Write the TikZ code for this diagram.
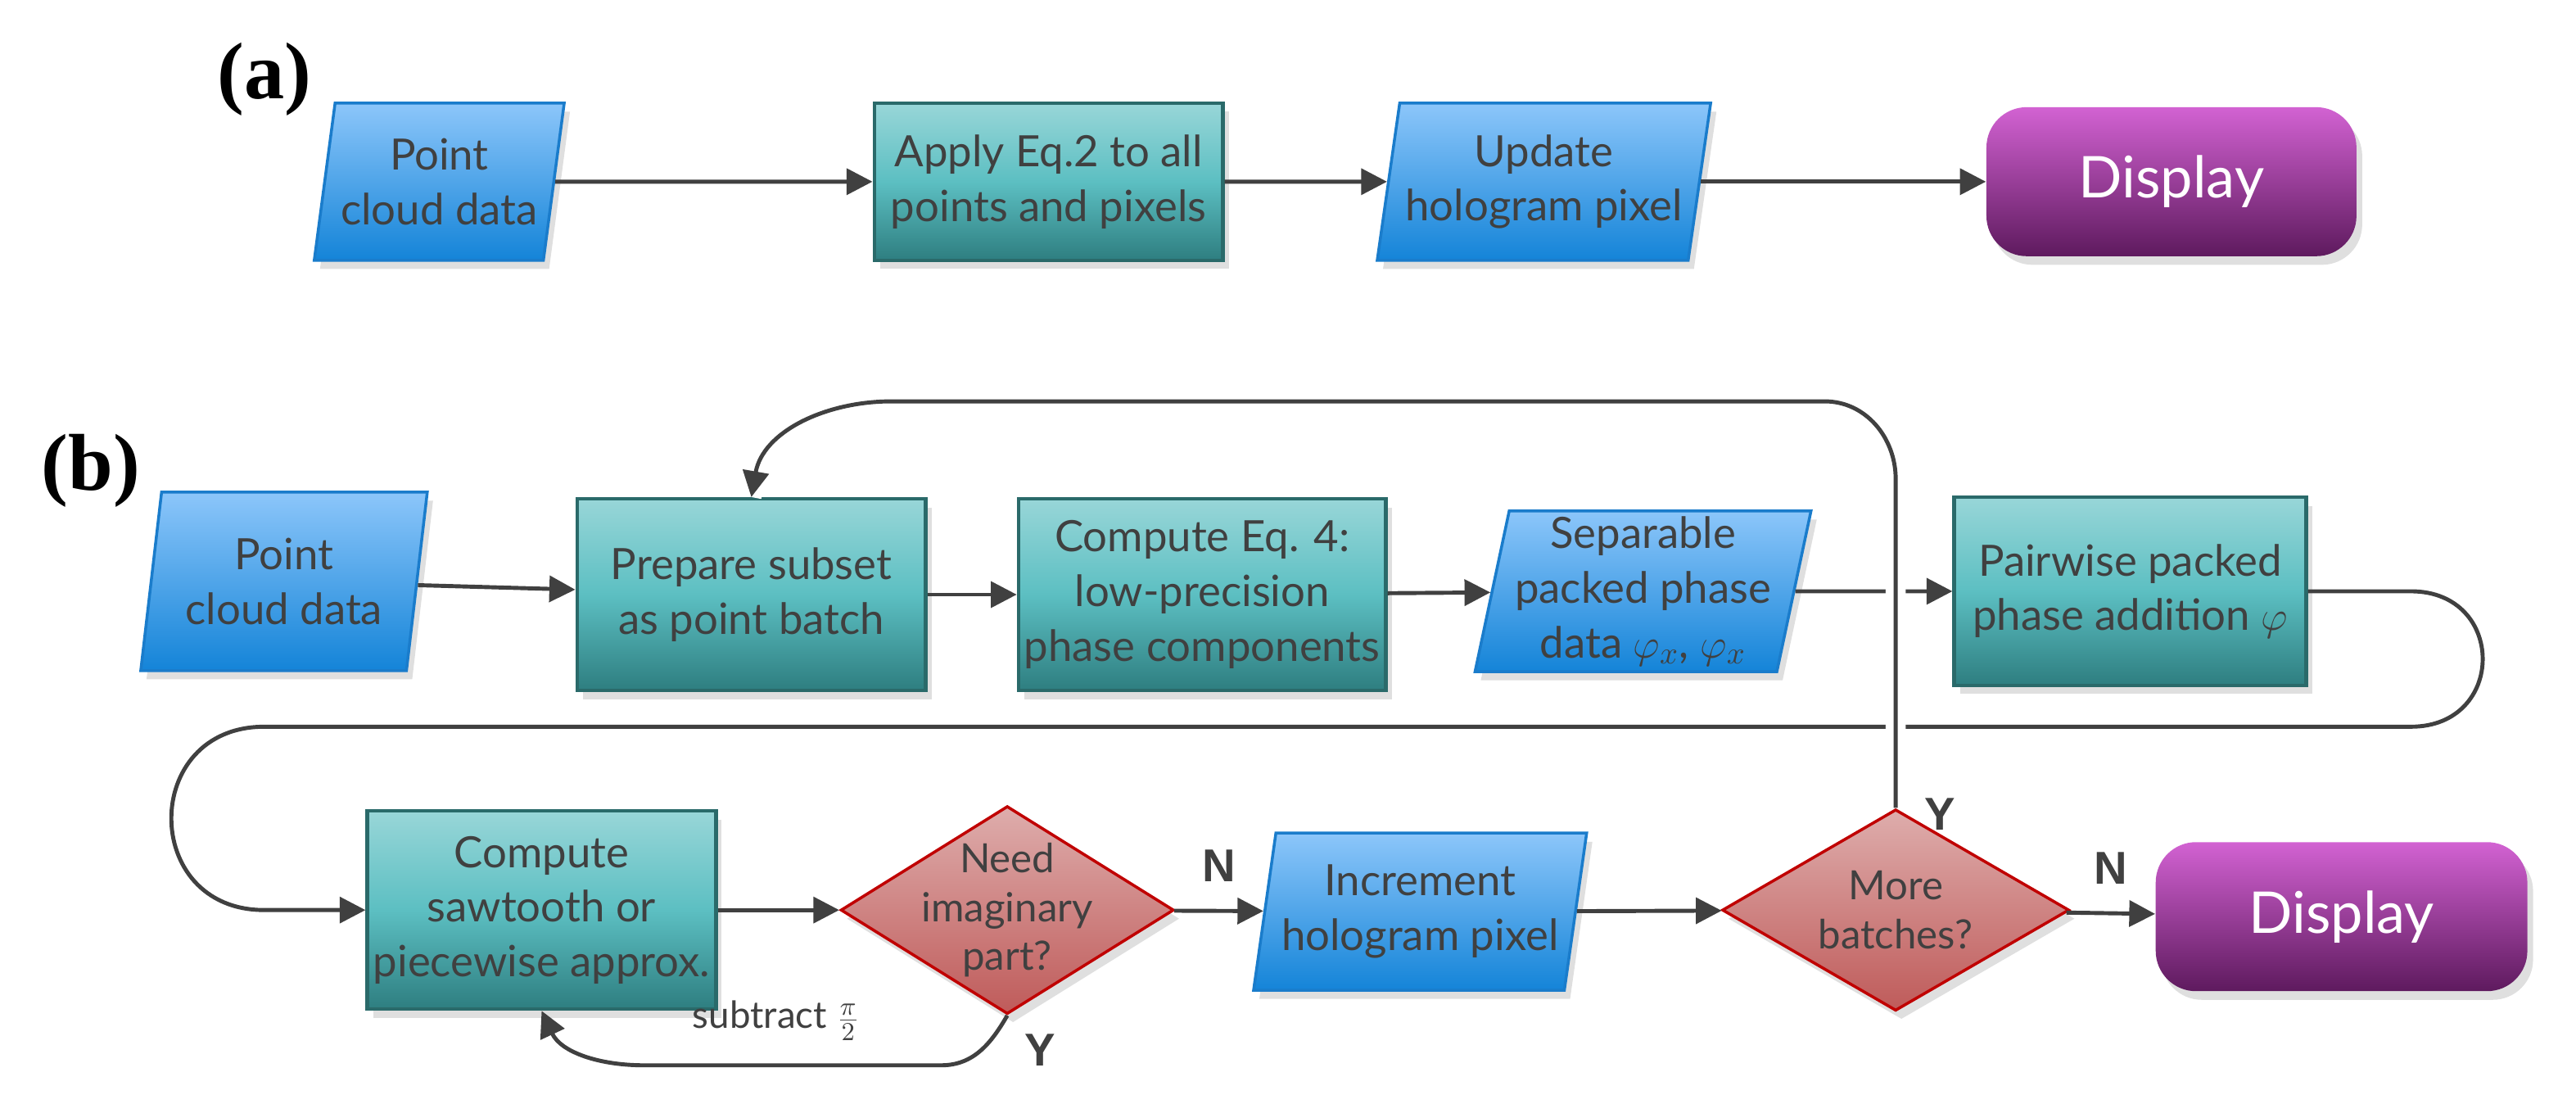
\documentclass[tikz,border=0pt]{standalone}
\usepackage{fontspec}
\setmainfont{Lato}
\newfontfamily\lblfont{Liberation Serif}
\newfontfamily\ynfont{Liberation Sans}
\usetikzlibrary{shapes.geometric,shadows,arrows.meta}
\definecolor{txt}{HTML}{404040}
\definecolor{bluetop}{HTML}{8CC6FA}
\definecolor{bluebot}{HTML}{1484D8}
\definecolor{blueline}{HTML}{1A7CCB}
\definecolor{tealtop}{HTML}{98D6D8}
\definecolor{tealmid}{HTML}{5CBFC2}
\definecolor{tealbot}{HTML}{2E7E80}
\definecolor{tealline}{HTML}{2A6A6A}
\definecolor{redtop}{HTML}{DEADAC}
\definecolor{redbot}{HTML}{BF5B5A}
\definecolor{redline}{HTML}{C00000}
\definecolor{purtop}{HTML}{D262D2}
\definecolor{purbot}{HTML}{5E1A5E}
\definecolor{arr}{HTML}{404040}
\tikzset{
  base/.style={font=\fontsize{15}{19}\selectfont, text=txt, align=center, inner sep=2pt,
     drop shadow={opacity=0.25, shadow xshift=2pt, shadow yshift=-3pt}},
  io/.style={base, trapezium, trapezium left angle=78, trapezium right angle=102,
     trapezium stretches body, top color=bluetop, bottom color=bluebot, draw=blueline, line width=1pt},
  proc/.style={base, rectangle, top color=tealtop, bottom color=tealbot, middle color=tealmid,
     draw=tealline, line width=1.2pt},
  dec/.style={base, diamond, aspect=1.6, inner sep=-6pt, top color=redtop, bottom color=redbot,
     draw=redline, line width=1pt, font=\fontsize{14}{17}\selectfont},
  disp/.style={base, rectangle, rounded corners=14pt, top color=purtop, bottom color=purbot,
     text=white, font=\fontsize{20}{24}\selectfont},
  conn/.style={draw=arr, line width=1.4pt, -{Triangle[length=9pt,width=9pt]}},
  yn/.style={font=\ynfont\bfseries\fontsize{16}{19}\selectfont, text=txt},
  lbl/.style={font=\lblfont\bfseries\fontsize{28}{32}\selectfont}
}
\begin{document}
\begin{tikzpicture}[x=0.02017cm,y=-0.02017cm]
\useasboundingbox (0,0) rectangle (1560,668);
% (a)
\node[lbl] (la) at (160,48) {(a)};
\node[io, minimum width=2.4cm, minimum height=1.92cm] (a1) at (266,110) {Point\\cloud data};
\node[proc, minimum width=4.26cm, minimum height=1.92cm] (a2) at (635,110) {Apply Eq.2 to all\\points and pixels};
\node[io, minimum width=2.4cm, minimum height=1.92cm] (a3) at (935,110) {Update\\hologram pixel};
\node[disp, minimum width=4.52cm, minimum height=1.82cm] (a4) at (1315,110) {Display};
\draw[conn] (a1) -- (a2);
\draw[conn] (a2) -- (a3);
\draw[conn] (a3) -- (a4);
% (b)
\node[lbl] (lb) at (55,285) {(b)};
\node[io, minimum width=3.5cm, minimum height=2.18cm] (b1) at (172,352) {Point\\cloud data};
\node[proc, minimum width=4.26cm, minimum height=2.34cm] (b2) at (455,360) {Prepare subset\\as point batch};
\node[proc, minimum width=4.26cm, minimum height=2.34cm] (b3) at (728,360) {Compute Eq. 4:\\low-precision\\phase components};
\node[io, minimum width=3.6cm, minimum height=1.88cm] (b4) at (995,358) {Separable\\packed phase\\data $\varphi_x$, $\varphi_x$};
\node[proc, minimum width=4.3cm, minimum height=2.3cm] (b5) at (1290,358) {Pairwise packed\\phase addition $\varphi$};
\node[proc, minimum width=4.26cm, minimum height=2.42cm] (c1) at (328,551) {Compute\\sawtooth or\\piecewise approx.};
\node[dec, minimum width=4.07cm, minimum height=2.54cm] (c2) at (610,551) {Need\\imaginary\\part?};
\node[io, minimum width=3.4cm, minimum height=1.92cm] (c3) at (860,552) {Increment\\hologram pixel};
\node[dec, minimum width=4.24cm, minimum height=2.46cm] (c4) at (1148,551) {More\\batches?};
\node[disp, minimum width=4.54cm, minimum height=1.82cm] (c5) at (1418,555) {Display};
\draw[conn] (b1) -- (b2);
\draw[conn] (b2) -- (b3);
\draw[conn] (b3) -- (b4);
\draw[conn] (b4) -- (b5);
\coordinate (r1) at (1460,358);
\coordinate (r2) at (1460,440);
\coordinate (l1) at (160,440);
\coordinate (l2) at (160,551);
\draw[conn] (b5.east) -- (r1) .. controls (1518,358) and (1518,440) .. (r2) -- (l1)
   .. controls (85,440) and (85,551) .. (l2) -- (c1.west);
\draw[conn] (c1) -- (c2);
\draw[conn] (c2) -- node[yn, above=6pt] (n1) {N} (c3);
\draw[conn] (c3) -- (c4);
\draw[conn] (c4) -- node[yn, above=6pt] (n2) {N} (c5);
\draw[conn, preaction={draw=white, line width=7pt, -}] (c4.north) -- (1148,290) to[out=90,in=0] (1105,243) -- (540,243) to[out=180,in=80] (b2.north);
\node[yn] (y2) at (1175,493) {Y};
\draw[conn] (c2.south) to[out=240,in=0] (570,645) -- (390,645) to[out=180,in=-65] (c1.south);
\node[font=\fontsize{13}{16}\selectfont, text=txt] (sub) at (470,618) {subtract $\frac{\pi}{2}$};
\node[yn] (y1) at (630,636) {Y};
\end{tikzpicture}
\end{document}
